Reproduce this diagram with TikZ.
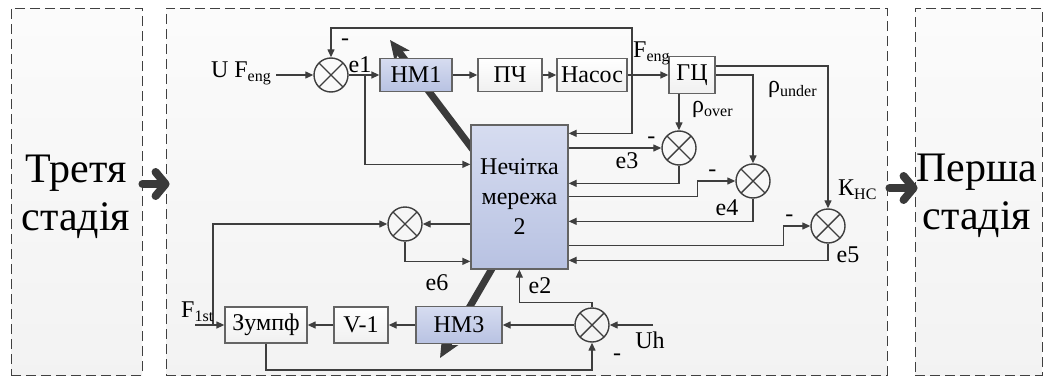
\documentclass[tikz,border=0pt]{standalone}
\usepackage{fontspec}
\setmainfont{Liberation Serif}
\usetikzlibrary{arrows.meta,positioning,calc}

\definecolor{linegray}{RGB}{62,62,62}
\definecolor{boxedge}{RGB}{100,100,100}
\definecolor{nmtop}{RGB}{214,220,240}
\definecolor{nmbot}{RGB}{184,194,226}
\definecolor{thickgray}{RGB}{58,58,58}

\newcommand\dfont{\fontsize{24}{28}\selectfont}
\newcommand\lowidx[1]{\raisebox{-4pt}{\fontsize{16}{18}\selectfont #1}}

\begin{document}
\begin{tikzpicture}[
  x=1pt, y=-1pt,
  stagebox/.style={draw=black!75, line width=0.9pt, dash pattern=on 10pt off 5pt,
    top color=gray!3, bottom color=gray!10, inner sep=0pt, minimum height=367pt},
  stagetxt/.style={font=\fontsize{42}{48}\selectfont, align=center, inner sep=0pt},
  blk/.style={draw=boxedge, line width=1.3pt, top color=white, bottom color=gray!12,
    minimum height=33pt, inner sep=2pt, font=\dfont},
  nm/.style={blk, top color=nmtop, bottom color=nmbot},
  sum/.style={circle, draw=linegray, line width=1.4pt, minimum size=34pt, inner sep=0pt,
    path picture={\draw[linegray, line width=1.4pt]
      (path picture bounding box.north west) -- (path picture bounding box.south east)
      (path picture bounding box.north east) -- (path picture bounding box.south west);}},
  lbl/.style={font=\dfont, inner sep=0pt},
  arr/.style={draw=linegray, line width=1.3pt, -{Triangle[length=8pt, width=7pt]}},
  adapt/.style={draw=thickgray, line width=7pt, -{Stealth[length=20pt, width=18pt, inset=5pt]}},
  stagearr/.style={draw=thickgray, line width=8pt, line cap=round,
    -{Straight Barb[round, length=10pt, width=24pt]}}
]
\useasboundingbox (0,0) rectangle (1044,380);
\fill[white] (0,0) rectangle (1044,380);

% stages
\node[stagebox, minimum width=131pt] (stage3) at (76.5,191.5) {};
\node[stagebox, minimum width=721pt] (plant) at (526.5,191.5) {};
\node[stagebox, minimum width=127pt] (stage1) at (978.5,191.5) {};
\node[stagetxt] (t3) at (76,197) {Третя\\стадія};
\node[stagetxt] (t1) at (977,196) {Перша\\стадія};
\draw[stagearr] ([yshift=7.5pt]stage3.east) -- ([xshift=4pt, yshift=7.5pt]plant.west);
\draw[stagearr] ([xshift=2pt, yshift=3.5pt]plant.east) -- ([xshift=3pt, yshift=3.5pt]stage1.west);

% adaptation arrows (under the blocks)
\coordinate (root1) at (480,159);
\coordinate (tip1) at (390,40);
\coordinate (root2) at (497,260);
\coordinate (tip2) at (440,358);
\draw[adapt] (root1) -- (tip1);
\draw[adapt] (root2) -- (tip2);

% blocks
\node[sum] (s1) at (331,75) {};
\node[lbl, inner xsep=5pt, anchor=base east] (uin) at (276,77) {U F\lowidx{eng}};
\node[nm, minimum width=72pt] (nm1) at (416,75) {НМ1};
\node[blk, minimum width=64pt] (pch) at (510,75) {ПЧ};
\node[blk, minimum width=70pt] (pump) at (592,75) {Насос};
\node[blk, minimum width=46pt, minimum height=37pt] (gc) at (692,75) {ГЦ};
\node[nm, minimum width=97pt, minimum height=144pt, align=center,
  font=\fontsize{24}{30}\selectfont] (nnet) at (519.5,197) {Нечітка\\мережа\\2};
\node[sum] (s3) at (679,148) {};
\node[sum] (s4) at (753,181) {};
\node[sum] (s5) at (828,226) {};
\node[sum] (s6) at (405,224) {};
\node[sum] (s7) at (592,325) {};
\node[blk, minimum width=82pt, minimum height=36pt] (zump) at (266,325) {Зумпф};
\node[blk, minimum width=54pt, minimum height=36pt] (v1) at (361,325) {V-1};
\node[nm, minimum width=86pt, minimum height=37pt] (nm3) at (459,325) {НМ3};

\coordinate (jf) at (632,75);
\coordinate (topc) at (632,28);
\coordinate (j1) at (365,75);
\coordinate (fin) at (195,325);
\coordinate (jz) at (213,325);
\coordinate (uh) at (653,325);

% upper loop
\draw[arr] (uin.east |- s1) -- (s1);
\draw[arr] (s1) -- (nm1);
\draw[arr] (nm1) -- (pch);
\draw[arr] (pch) -- (pump);
\draw[arr] (pump) -- (gc);
\draw[arr] (jf) -- (topc) -| (s1);
\draw[arr] (jf) |- ($(nnet.north east)+(0,9)$);
\draw[arr] (j1) |- ($(nnet.north west)+(0,40)$);
\draw[arr] (gc.south -| s3) -- (s3);
\draw[arr] (gc.east) -| (s4);
\draw[arr] ($(gc.east)+(0,-9)$) -| (s5);

% errors to the fuzzy net
\draw[arr] (nnet.east |- s3) -- (s3);
\draw[arr] (s3) |- ($(nnet.north east)+(0,59)$);
\draw[arr] ($(nnet.north east)+(0,72)$) -| ($(s4.west)+(-38,0)$) -- (s4);
\draw[arr] (s4) |- ($(nnet.north east)+(0,97)$);
\draw[arr] ($(nnet.north east)+(0,121)$) -| ($(s5.west)+(-27,0)$) -- (s5);
\draw[arr] (s5) |- ($(nnet.north east)+(0,136)$);
\draw[arr] (nnet.west |- s6) -- (s6);
\draw[arr] (s6) |- ($(nnet.north west)+(0,137)$);

% lower loop
\draw[arr] (fin) -- (zump);
\draw[arr] (jz) |- (s6);
\draw[arr] (uh) -- (s7);
\draw[arr] (s7) -- (nm3);
\draw[arr] (nm3) -- (v1);
\draw[arr] (v1) -- (zump);
\draw[arr] (zump) -- ++(0,45) -| (s7);
\draw[arr] (s7) |- ($(nnet.south west)+(49,33)$) -- ($(nnet.south west)+(49,0)$);

% labels
\node[lbl, anchor=base] at (360,72) {e1};
\node[lbl, anchor=base] at (627,168) {e3};
\node[lbl, anchor=base] at (727,215) {e4};
\node[lbl, anchor=base] at (848,262) {e5};
\node[lbl, anchor=base] at (437,290) {e6};
\node[lbl, anchor=base] at (540,293) {e2};
\node[lbl, anchor=base] at (650,348) {Uh};
\node[lbl, anchor=base west] at (633,57) {F\lowidx{eng}};
\node[lbl, anchor=base west] at (181,317) {F\lowidx{1st}};
\node[lbl, anchor=base west] at (838,195) {К\lowidx{НС}};
\node[lbl, anchor=base west] at (768,92) {ρ\lowidx{under}};
\node[lbl, anchor=base west] at (692,112) {ρ\lowidx{over}};
\node[lbl] at ([xshift=14pt, yshift=15pt]s1.north) {-};
\node[lbl] at ([xshift=-10pt, yshift=8pt]s3.west) {-};
\node[lbl] at ([xshift=-23pt, yshift=8pt]s4.west) {-};
\node[lbl] at ([xshift=-21pt, yshift=8pt]s5.west) {-};
\node[lbl] at ([xshift=25pt, yshift=-15pt]s7.south) {-};
\end{tikzpicture}
\end{document}
